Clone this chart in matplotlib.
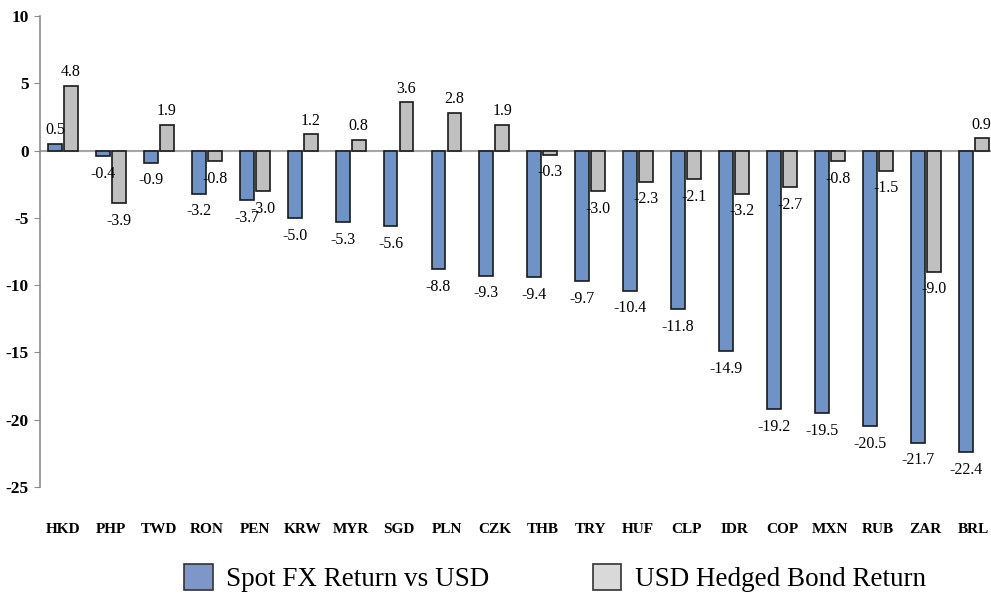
import matplotlib
matplotlib.use("Agg")
import matplotlib.pyplot as plt
import numpy as np
from matplotlib.patches import Patch

currencies = ["HKD", "PHP", "TWD", "RON", "PEN", "KRW", "MYR", "SGD", "PLN", "CZK",
              "THB", "TRY", "HUF", "CLP", "IDR", "COP", "MXN", "RUB", "ZAR", "BRL"]
spot_fx = [0.5, -0.4, -0.9, -3.2, -3.7, -5.0, -5.3, -5.6, -8.8, -9.3,
           -9.4, -9.7, -10.4, -11.8, -14.9, -19.2, -19.5, -20.5, -21.7, -22.4]
bond_ret = [4.8, -3.9, 1.9, -0.8, -3.0, 1.2, 0.8, 3.6, 2.8, 1.9,
            -0.3, -3.0, -2.3, -2.1, -3.2, -2.7, -0.8, -1.5, -9.0, 0.9]
yticks = [10, 5, 0, -5, -10, -15, -20, -25]

plt.rcParams['font.family'] = ['Liberation Serif', 'DejaVu Serif']

fig = plt.figure(figsize=(9.91, 5.96), dpi=100)
ax = fig.add_axes([40/991, 1-487/596, 1-40/991, (487-16)/596])

x = np.arange(len(currencies))
w = 0.29
off = 0.167
blue = "#6f93c6"
gray = "#c0c0c0"
edge = "#1a1a1a"
ax.bar(x - off, spot_fx, w, color=blue, edgecolor=edge, linewidth=1.2, zorder=3)
ax.bar(x + off, bond_ret, w, color=gray, edgecolor=edge, linewidth=1.2, zorder=3)

for xs, vals in ((x - off, spot_fx), (x + off, bond_ret)):
    for xi, v in zip(xs, vals):
        if v >= 0:
            ax.annotate(f"{v:.1f}", (xi, v), xytext=(0, 4), textcoords="offset points",
                        ha="center", va="bottom", fontsize=11.5, zorder=4,
                        annotation_clip=False)
        else:
            ax.annotate(f"{v:.1f}", (xi, v), xytext=(0, -7), textcoords="offset points",
                        ha="center", va="top", fontsize=11.5, zorder=4)

ax.axhline(0, color="#a6a6a6", linewidth=1.5, zorder=2)
ax.set_ylim(-25, 10)
ax.set_xlim(-0.48, 19.36)
ax.set_yticks(yticks)
ax.set_yticklabels([str(t) for t in yticks], fontweight="bold", fontsize=12.5)
ax.set_xticks(x)
ax.set_xticklabels(currencies, fontweight="bold", fontsize=11)
ax.tick_params(axis="x", length=0, pad=26)
ax.tick_params(axis="y", length=4, color="#8c8c8c", pad=4)
for s in ("top", "right", "bottom"):
    ax.spines[s].set_visible(False)
ax.spines["left"].set_color("#8c8c8c")
ax.spines["left"].set_linewidth(1.2)

handles = [Patch(facecolor="#7f97c8", edgecolor="#333333", linewidth=1.2),
           Patch(facecolor="#d9d9d9", edgecolor="#333333", linewidth=1.2)]
fig.legend(handles, ["Spot FX Return vs USD", "USD Hedged Bond Return"],
           loc="center", bbox_to_anchor=(555/991, 1-578/596), ncol=2, frameon=False,
           fontsize=19.5, handlelength=1.05, handleheight=1.1, handletextpad=0.5,
           columnspacing=3.8)

fig.savefig("out.png", dpi=100)
